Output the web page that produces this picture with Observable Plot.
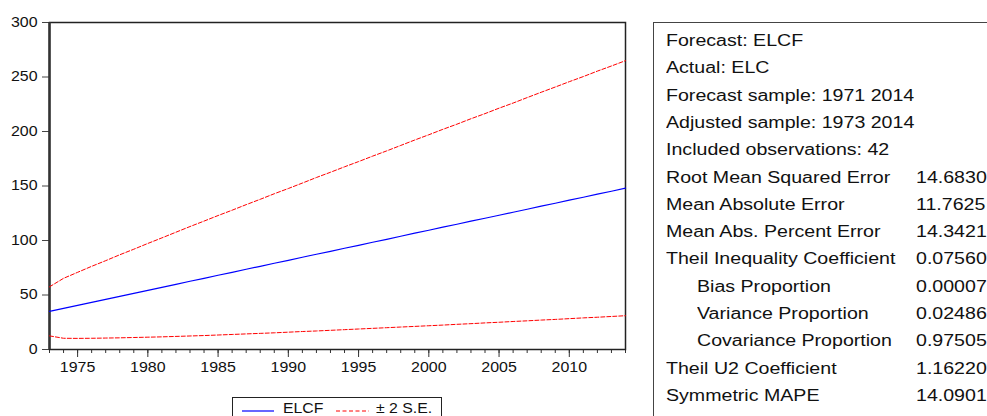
<!DOCTYPE html>
<html>
<head>
<meta charset="utf-8">
<script src="https://cdn.jsdelivr.net/npm/d3@7"></script>
<script src="https://cdn.jsdelivr.net/npm/@observablehq/plot@0.6"></script>
<style>
  html, body { margin: 0; padding: 0; background: #fff; overflow: hidden; }
  body { width: 987px; height: 416px; position: relative; font-family: "Liberation Sans", Arial, sans-serif; color: #111; }
  #chart { position: absolute; left: 0; top: 0; }
  #legend { position: absolute; left: 232px; top: 397px; width: 210px; height: 30px; border: 1px solid #222; box-sizing: border-box; background: #fff; }
  #legend svg { position: absolute; left: 0; top: 0; }
  #legend span { position: absolute; top: 4px; font-size: 14px; line-height: 13px; white-space: nowrap; transform: scaleX(1.13); transform-origin: 0 50%; }
  #stats { position: absolute; left: 653px; top: 22px; width: 400px; height: 420px; border: 1px solid #444; box-sizing: border-box; background: #fff; }
  #stats div { position: absolute; font-size: 15.8px; line-height: 18px; white-space: nowrap; transform: scaleX(1.24); transform-origin: 0 50%; }
</style>
</head>
<body>
<div id="chart"></div>
<div id="legend">
  <svg width="210" height="30">
    <line x1="9" y1="13" x2="41" y2="13" stroke="#0000ff" stroke-width="1.2"/>
    <line x1="103" y1="13" x2="136" y2="13" stroke="#ff0000" stroke-width="1" stroke-dasharray="4,2.5"/>
  </svg>
  <span style="left:50px">ELCF</span>
  <span style="left:143px">± 2 S.E.</span>
</div>
<div id="stats"></div>
<script>
const years = d3.range(1973, 2015);
const elcf = [35.0, 37.8, 40.5, 43.3, 46.0, 48.8, 51.5, 54.3, 57.0, 59.8, 62.6, 65.3, 68.1, 70.8, 73.6, 76.3, 79.1, 81.8, 84.6, 87.4, 90.1, 92.9, 95.6, 98.4, 101.1, 103.9, 106.7, 109.4, 112.2, 114.9, 117.7, 120.4, 123.2, 125.9, 128.7, 131.5, 134.2, 137.0, 139.7, 142.5, 145.2, 148.0];
const lower = [12.5, 10.3, 10.2, 10.3, 10.5, 10.7, 11.0, 11.3, 11.6, 12.0, 12.4, 12.8, 13.3, 13.8, 14.3, 14.8, 15.3, 15.9, 16.5, 17.0, 17.6, 18.2, 18.8, 19.4, 20.0, 20.6, 21.2, 21.8, 22.4, 23.1, 23.7, 24.4, 25.0, 25.7, 26.3, 27.0, 27.6, 28.3, 29.0, 29.6, 30.3, 31.0];
const upper = [57.5, 65.3, 70.8, 76.3, 81.5, 86.9, 92.0, 97.3, 102.4, 107.6, 112.8, 117.8, 122.9, 127.8, 132.9, 137.8, 142.9, 147.7, 152.7, 157.8, 162.6, 167.6, 172.4, 177.4, 182.2, 187.2, 192.2, 197.0, 202.0, 206.7, 211.7, 216.4, 221.4, 226.1, 231.1, 236.0, 240.8, 245.7, 250.4, 255.4, 260.1, 265.0];
const majorXTicks = [1975, 1980, 1985, 1990, 1995, 2000, 2005, 2010];
const yTicks = [0, 50, 100, 150, 200, 250, 300];

const statLabels = ["Forecast: ELCF", "Actual: ELC", "Forecast sample: 1971 2014", "Adjusted sample: 1973 2014", "Included observations: 42",
  "Root Mean Squared Error", "Mean Absolute Error", "Mean Abs. Percent Error", "Theil Inequality Coefficient",
  "Bias Proportion", "Variance Proportion", "Covariance Proportion", "Theil U2 Coefficient", "Symmetric MAPE"];
const statValues = ["", "", "", "", "", "14.6830", "11.7625", "14.3421", "0.07560", "0.00007", "0.02486", "0.97505", "1.16220", "14.0901"];
const statIndent = [0, 0, 0, 0, 0, 0, 0, 0, 0, 1, 1, 1, 0, 0];

const series = years.map((y, i) => ({year: y, f: elcf[i], lo: lower[i], hi: upper[i]}));

const plot = Plot.plot({
  width: 640,
  height: 416,
  marginLeft: 49,
  marginRight: 15,
  marginTop: 22,
  marginBottom: 67,
  style: {fontFamily: '"Liberation Sans", Arial, sans-serif', fontSize: "14px", color: "#111", background: "transparent"},
  x: {domain: [1973, 2014]},
  y: {domain: [0, 300]},
  marks: [
    Plot.axisX({ticks: years, tickSize: 4, tickFormat: () => "", stroke: "#333", label: null}),
    Plot.axisX({ticks: majorXTicks, tickSize: 8, tickFormat: d => String(d), tickPadding: 5, stroke: "#333", label: null, fontSize: 14}),
    Plot.axisY({ticks: yTicks, tickSize: 7, tickPadding: 5, stroke: "#444", label: null, fontSize: 14}),
    Plot.frame({stroke: "#222", strokeWidth: 1.5}),
    Plot.ruleX([1973], {stroke: "#333", strokeWidth: 2.5}),
    Plot.lineY(series, {x: "year", y: "hi", stroke: "#ff0000", strokeWidth: 1, strokeDasharray: "4,2"}),
    Plot.lineY(series, {x: "year", y: "lo", stroke: "#ff0000", strokeWidth: 1, strokeDasharray: "4,2"}),
    Plot.lineY(series, {x: "year", y: "f", stroke: "#0000ff", strokeWidth: 1.2})
  ]
});
// widen the tick-label glyphs horizontally, like the reference's stretched font
d3.select(plot).selectAll('g[aria-label$="tick label"] text').each(function() {
  const t = this.getAttribute("transform") || "";
  this.setAttribute("transform", t + " scale(1.14,1)");
});
document.getElementById("chart").appendChild(plot);

const stats = document.getElementById("stats");
statLabels.forEach((lab, i) => {
  const top = 9 + i * 27.3;
  const a = document.createElement("div");
  a.textContent = lab;
  a.style.left = (statIndent[i] ? 43 : 12) + "px";
  a.style.top = top + "px";
  stats.appendChild(a);
  if (statValues[i]) {
    const b = document.createElement("div");
    b.textContent = statValues[i];
    b.style.left = "262px";
    b.style.top = top + "px";
    stats.appendChild(b);
  }
});
</script>
</body>
</html>
